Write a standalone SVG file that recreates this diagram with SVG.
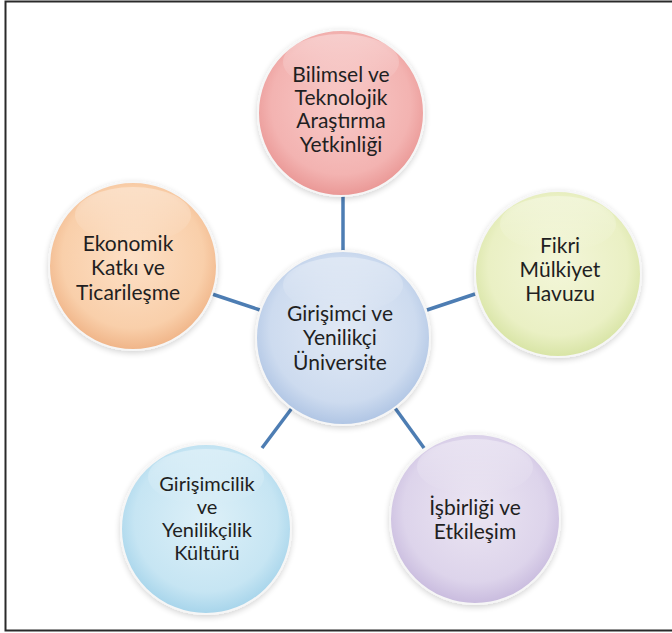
<svg xmlns="http://www.w3.org/2000/svg" width="672" height="633" viewBox="0 0 672 633">
<defs>
<radialGradient id="gPink" cx="50%" cy="45%" r="56%"><stop offset="0" stop-color="#f8cac8"/><stop offset="0.75" stop-color="#f3b3b1"/><stop offset="1" stop-color="#e99593"/></radialGradient>
<radialGradient id="gOrange" cx="50%" cy="45%" r="56%"><stop offset="0" stop-color="#fde0c6"/><stop offset="0.75" stop-color="#f9cfaa"/><stop offset="1" stop-color="#efb285"/></radialGradient>
<radialGradient id="gGreen" cx="50%" cy="45%" r="56%"><stop offset="0" stop-color="#f3f6d9"/><stop offset="0.75" stop-color="#eaf0c4"/><stop offset="1" stop-color="#d6e3a2"/></radialGradient>
<radialGradient id="gBlue" cx="50%" cy="45%" r="56%"><stop offset="0" stop-color="#e1e9f5"/><stop offset="0.75" stop-color="#cddbef"/><stop offset="1" stop-color="#adc3e3"/></radialGradient>
<radialGradient id="gCyan" cx="50%" cy="45%" r="56%"><stop offset="0" stop-color="#ddf0f8"/><stop offset="0.75" stop-color="#c6e5f3"/><stop offset="1" stop-color="#a4d3ea"/></radialGradient>
<radialGradient id="gPurple" cx="50%" cy="45%" r="56%"><stop offset="0" stop-color="#ebe5f2"/><stop offset="0.75" stop-color="#ddd4eb"/><stop offset="1" stop-color="#c7b9dd"/></radialGradient>
<linearGradient id="gloss" x1="0" y1="0" x2="0" y2="1"><stop offset="0" stop-color="#ffffff" stop-opacity="0.35"/><stop offset="1" stop-color="#ffffff" stop-opacity="0"/></linearGradient>
<filter id="sh" x="-20%" y="-20%" width="140%" height="140%"><feGaussianBlur in="SourceAlpha" stdDeviation="3"/><feOffset dx="0" dy="2"/><feComponentTransfer><feFuncA type="linear" slope="0.18"/></feComponentTransfer><feMerge><feMergeNode/><feMergeNode in="SourceGraphic"/></feMerge></filter>
</defs>
<style>
.c{stroke:#f6f6f6;stroke-width:2;filter:url(#sh)}
.t{font-family:Lato,"Liberation Sans",sans-serif;font-size:21px;fill:#1f1f22;text-anchor:middle}
.s{font-size:20px}
.ln{stroke:#4d7db3;stroke-width:3.5;stroke-linecap:butt;fill:none}
</style>
<rect width="672" height="633" fill="#ffffff"/>
<path d="M672,1.5 H5.5 V630.5 H672" fill="none" stroke="#2a2a2a" stroke-width="2"/>
<g id="connectors">
<line class="ln" x1="343" y1="196" x2="343" y2="252"/>
<line class="ln" x1="212" y1="294" x2="260" y2="310"/>
<line class="ln" x1="427" y1="310" x2="475" y2="294"/>
<line class="ln" x1="292" y1="408" x2="262" y2="448"/>
<line class="ln" x1="395" y1="408" x2="424" y2="448"/>
</g>
<g id="n-top">
<circle class="c" cx="341" cy="113" r="83" fill="url(#gPink)"/>
<ellipse cx="341" cy="62" rx="58" ry="28" fill="url(#gloss)"/>
<text class="t" x="341" y="82">Bilimsel ve</text>
<text class="t" x="341" y="105">Teknolojik</text>
<text class="t" x="341" y="128">Araştırma</text>
<text class="t" x="341" y="152">Yetkinliği</text>
</g>
<g id="n-left">
<circle class="c" cx="133" cy="266" r="84" fill="url(#gOrange)"/>
<ellipse cx="133" cy="215" rx="58" ry="28" fill="url(#gloss)"/>
<text class="t" x="128" y="251">Ekonomik</text>
<text class="t" x="128" y="275">Katkı ve</text>
<text class="t" x="128" y="300">Ticarileşme</text>
</g>
<g id="n-right">
<circle class="c" cx="558" cy="274" r="83" fill="url(#gGreen)"/>
<ellipse cx="558" cy="224" rx="58" ry="28" fill="url(#gloss)"/>
<text class="t" x="560" y="253">Fikri</text>
<text class="t" x="560" y="277">Mülkiyet</text>
<text class="t" x="560" y="301">Havuzu</text>
</g>
<g id="n-center">
<circle class="c" cx="343" cy="338" r="87" fill="url(#gBlue)"/>
<ellipse cx="343" cy="285" rx="60" ry="28" fill="url(#gloss)"/>
<text class="t" x="340" y="321">Girişimci ve</text>
<text class="t" x="340" y="345">Yenilikçi</text>
<text class="t" x="340" y="370">Üniversite</text>
</g>
<g id="n-bottomleft">
<circle class="c" cx="206" cy="529" r="85" fill="url(#gCyan)"/>
<ellipse cx="206" cy="477" rx="58" ry="28" fill="url(#gloss)"/>
<text class="t s" x="207" y="491">Girişimcilik</text>
<text class="t s" x="207" y="514">ve</text>
<text class="t s" x="207" y="537">Yenilikçilik</text>
<text class="t s" x="207" y="560">Kültürü</text>
</g>
<g id="n-bottomright">
<circle class="c" cx="475" cy="519" r="85" fill="url(#gPurple)"/>
<ellipse cx="475" cy="467" rx="58" ry="28" fill="url(#gloss)"/>
<text class="t" x="475" y="515">İşbirliği ve</text>
<text class="t" x="475" y="539">Etkileşim</text>
</g>
</svg>
